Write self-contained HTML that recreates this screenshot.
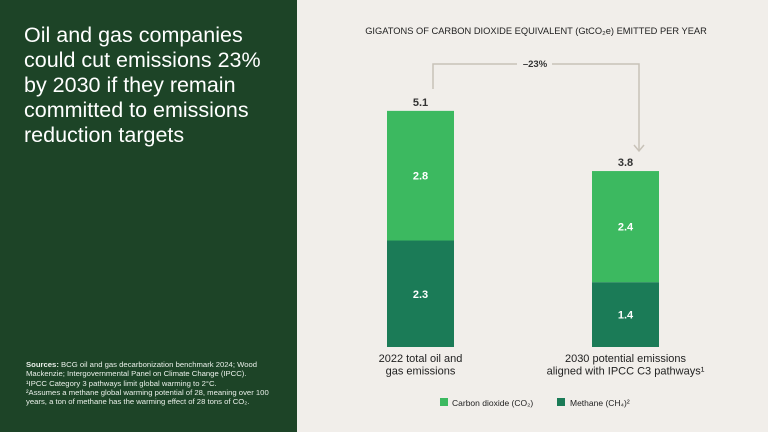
<!DOCTYPE html>
<html><head><meta charset="utf-8"><style>
body{margin:0;width:768px;height:432px;overflow:hidden;background:#f1eeea;font-family:"Liberation Sans",sans-serif;position:relative}
#left{position:absolute;left:0;top:0;width:297px;height:432px;background:#1d4427}
#title{position:absolute;left:24px;top:23px;width:258px;color:#fff;font-size:21.5px;line-height:25px}
#src{position:absolute;left:26px;top:360px;color:#e9efe9;font-size:7.7px;line-height:9.3px;width:258px}
svg{position:absolute;left:0;top:0}
</style></head><body>
<div id="left">
<div id="title">Oil and gas companies could cut emissions 23% by 2030 if they remain committed to emissions reduction targets</div>
<div id="src"><b>Sources:</b> BCG oil and gas decarbonization benchmark 2024; Wood Mackenzie; Intergovernmental Panel on Climate Change (IPCC).<br>¹IPCC Category 3 pathways limit global warming to 2°C.<br>²Assumes a methane global warming potential of 28, meaning over 100 years, a ton of methane has the warming effect of 28 tons of CO₂.</div>
</div>
<svg width="768" height="432" id="chart">
<text x="536" y="34" text-anchor="middle" font-size="9.3" fill="#222">GIGATONS OF CARBON DIOXIDE EQUIVALENT (GtCO₂e) EMITTED PER YEAR</text>
<path d="M433 89 V64 H517 M552 64 H639 V150" fill="none" stroke="#c8c2b8" stroke-width="1.5"/>
<path d="M634 145 L639 151 L644 145" fill="none" stroke="#c8c2b8" stroke-width="1.5"/>
<text x="535" y="67" text-anchor="middle" font-size="9.5" font-weight="bold" fill="#333">–23%</text>
<g id="bars"></g>
<g>
<rect x="440" y="398" width="8" height="8" fill="#3cb960"/>
<text x="452" y="406" font-size="8.5" fill="#222">Carbon dioxide (CO₂)</text>
<rect x="557" y="398" width="8" height="8" fill="#1b7b57"/>
<text x="570" y="406" font-size="8.5" fill="#222">Methane (CH₄)²</text>
</g>
</svg>
<script>
const categories=["2022 total oil and|gas emissions","2030 potential emissions|aligned with IPCC C3 pathways¹"];
const methane=[2.3,1.4];
const co2=[2.8,2.4];
const totals=[5.1,3.8];
const g=document.getElementById('bars');
const base=347,k=46.3,xs=[387,592],w=67;
const y=v=>base-v*k;
const NS="http://www.w3.org/2000/svg";
function mk(t,a){const e=document.createElementNS(NS,t);for(const n in a)e.setAttribute(n,a[n]);g.appendChild(e);return e;}
categories.forEach((c,i)=>{
 const x=xs[i];
 const r1=mk('rect',{x:x,y:y(methane[i]),width:w,height:base-y(methane[i]),fill:'#1b7b57'});
 
 
 const r2=mk('rect',{x:x,y:y(methane[i]+co2[i]),width:w,height:co2[i]*k,fill:'#3cb960'});
 
 
 const t1=mk('text',{x:x+w/2,y:y(methane[i]/2)+4,'text-anchor':'middle','font-size':11,'font-weight':'bold',fill:'#fff'});t1.textContent=methane[i].toFixed(1);
 
 
 const t2=mk('text',{x:x+w/2,y:y(methane[i]+co2[i]/2)+4,'text-anchor':'middle','font-size':11,'font-weight':'bold',fill:'#fff'});t2.textContent=co2[i].toFixed(1);
 
 
 const t3=mk('text',{x:x+w/2,y:y(totals[i])-5,'text-anchor':'middle','font-size':11,'font-weight':'bold',fill:'#333'});t3.textContent=totals[i].toFixed(1);
 
 
 c.split('|').forEach((ln,j)=>{
  const t=mk('text',{x:x+w/2,y:362+j*12.5,'text-anchor':'middle','font-size':11,fill:'#222'});t.textContent=ln;
  
  
 });
});
</script>
</body></html>
